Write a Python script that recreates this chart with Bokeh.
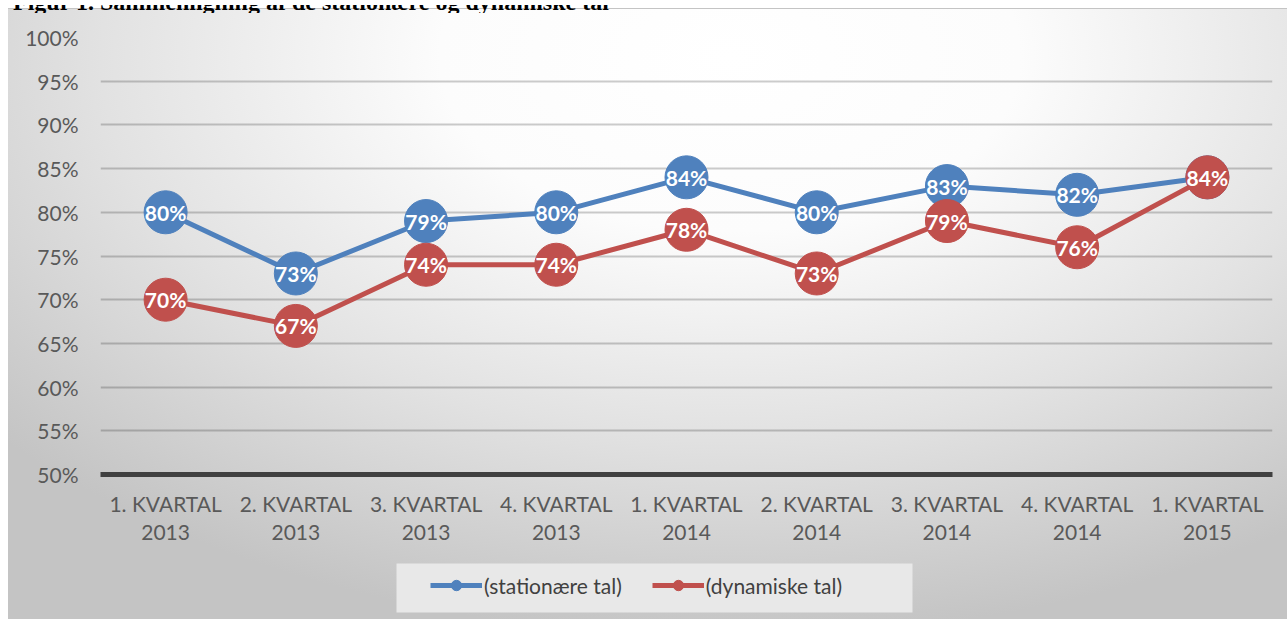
from bokeh.plotting import figure
from bokeh.models import (ColumnDataSource, Legend, LegendItem, FixedTicker, Range1d, FactorRange,
                          CustomJSTickFormatter, BoxAnnotation, Div)
from bokeh.layouts import column
from bokeh.core.properties import value
from bokeh.embed import file_html
from bokeh.resources import INLINE

categories = ["1. KVARTAL\n2013", "2. KVARTAL\n2013", "3. KVARTAL\n2013", "4. KVARTAL\n2013",
              "1. KVARTAL\n2014", "2. KVARTAL\n2014", "3. KVARTAL\n2014", "4. KVARTAL\n2014",
              "1. KVARTAL\n2015"]
stationaere = [80, 73, 79, 80, 84, 80, 83, 82, 84]
dynamiske = [70, 67, 74, 74, 78, 73, 79, 76, 84]
series_names = ["(stationære tal)", "(dynamiske tal)"]
y_ticks = [50, 55, 60, 65, 70, 75, 80, 85, 90, 95, 100]
title_text = "Figur 1. Sammenligning af de stationære og dynamiske tal"

BLUE = "#4f81bd"
RED = "#c0504d"
FONT = "Lato"
FS = "21px"
W = 1287
H0 = 8      # strip holding the (cut) title; the page lays it out about 18px tall
H1 = 542    # main chart
H2 = 59     # legend strip

# ---- title strip (only the lower part of the title shows, as in the reference)
p0 = Div(text=f'<div style="position:absolute; top:-15px; left:8px; font-family:\'Liberation Serif\'; '
              f'font-weight:bold; font-size:24px; line-height:24px; white-space:nowrap; color:#000;">{title_text}</div>',
         width=W, height=H0,
         styles={"overflow": "hidden", "position": "relative", "height": f"{H0}px", "max-height": f"{H0}px"})

# ---- main chart
p = figure(width=W, height=H1, x_range=FactorRange(*categories, range_padding=0),
           y_range=Range1d(50, 100), output_backend="svg", toolbar_location=None,
           min_border_left=100, min_border_right=15, min_border_top=19, min_border_bottom=86)
p.background_fill_alpha = 0
p.border_fill_alpha = 0
p.outline_line_color = None

p.xgrid.grid_line_color = None
p.ygrid.grid_line_color = "black"
p.ygrid.grid_line_alpha = 0.2
p.ygrid.grid_line_width = 2
p.ygrid.ticker = FixedTicker(ticks=y_ticks)

p.yaxis.ticker = FixedTicker(ticks=y_ticks)
p.yaxis.formatter = CustomJSTickFormatter(code="return tick + '%';")
p.yaxis.axis_line_color = None
p.yaxis.major_tick_line_color = None
p.yaxis.minor_tick_line_color = None
p.yaxis.major_label_text_font = FONT
p.yaxis.major_label_text_font_size = FS
p.yaxis.major_label_text_color = "#595959"
p.yaxis.major_label_standoff = 16

p.xaxis.axis_line_color = "#404040"
p.xaxis.axis_line_width = 5
p.xaxis.major_tick_line_color = None
p.xaxis.minor_tick_line_color = None
p.xaxis.major_label_text_font = FONT
p.xaxis.major_label_text_font_size = FS
p.xaxis.major_label_text_color = "#595959"
p.xaxis.major_label_text_line_height = 1.12
p.xaxis.major_label_standoff = 10

src = ColumnDataSource(dict(
    x=categories, s=stationaere, d=dynamiske,
    sl=[f"{v}%" for v in stationaere], dl=[f"{v}%" for v in dynamiske]))

for col, lab, color in [("s", "sl", BLUE), ("d", "dl", RED)]:
    p.line("x", col, source=src, line_color=color, line_width=5)
    p.scatter("x", col, source=src, size=43, fill_color=color, line_color=color)
    p.text("x", col, text=lab, source=src, text_color="white", text_font=value(FONT),
           text_font_style="bold", text_font_size=FS, text_align="center", text_baseline="middle")

# ---- legend strip (series drawn off-range here, only their legend glyphs show)
p2 = figure(width=W, height=H2, x_range=FactorRange(*categories, range_padding=0), y_range=Range1d(0, 1),
            output_backend="svg", toolbar_location=None, x_axis_type=None, y_axis_type=None,
            min_border=0, min_border_left=0, min_border_right=0, min_border_top=0, min_border_bottom=0)
p2.grid.visible = False
p2.background_fill_alpha = 0
p2.border_fill_alpha = 0
p2.outline_line_color = None
items = []
for col, color, name in [("s", BLUE, series_names[0]), ("d", RED, series_names[1])]:
    l = p2.line("x", col, source=src, line_color=color, line_width=5)
    c = p2.scatter("x", col, source=src, size=12, fill_color=color, line_color=color)
    items.append(LegendItem(label=name, renderers=[l, c]))
p2.add_layout(BoxAnnotation(left=396, right=912, top=3, bottom=52, left_units="canvas",
                            right_units="canvas", top_units="canvas", bottom_units="canvas",
                            fill_color="#e8e8e8", fill_alpha=1, line_color=None, level="underlay"))
legend = Legend(items=items, orientation="horizontal", location=(330, 21),
                label_text_font=FONT, label_text_font_size=FS, label_text_color="#404040",
                glyph_width=52, glyph_height=26, label_standoff=2, spacing=30, padding=11, margin=0,
                background_fill_alpha=0, border_line_color=None)
p2.add_layout(legend, "center")

layout = column(p0, p, p2, spacing=0)
layout.styles = {"background": "linear-gradient(#c4c4c4, #c4c4c4) 8px 8px / 100% 1px no-repeat, "
                               "radial-gradient(ellipse 75% 95% at 56% 8%, #ffffff 0%, #fcfcfc 30%, #e2e2e2 65%, #c4c4c4 100%) 8px 8px / calc(100% - 8px) calc(100% - 8px) no-repeat, #ffffff"}
open("out.html", "w").write(file_html(layout, INLINE))
